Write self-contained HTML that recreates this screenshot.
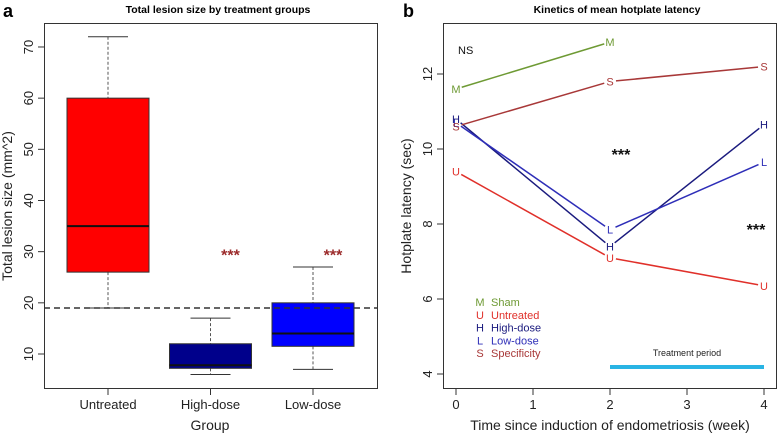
<!DOCTYPE html>
<html><head><meta charset="utf-8"><style>
html,body{margin:0;padding:0;background:#fff;width:778px;height:433px;overflow:hidden}
svg text{font-family:"Liberation Sans",sans-serif}
</style></head><body>
<svg id="c" width="778" height="433" xmlns="http://www.w3.org/2000/svg"></svg>
<script>
// ---- Panel a data ----
const groups=["Untreated","High-dose","Low-dose"];
const whiskLo=[19,6,7];
const q1=[26,7.2,11.5];
const med=[35,7.8,14];
const q3=[60,12,20];
const whiskHi=[72,17,27];
const boxColors=["#ff0000","#00008b","#0000ff"];
const sigA=["","***","***"];
const refLine=19;
const ticksA=[10,20,30,40,50,60,70];
// ---- Panel b data ----
const weeks=[0,1,2,3,4];
const seriesNames=["Sham","Untreated","High-dose","Low-dose","Specificity"];
const seriesLetters=["M","U","H","L","S"];
const seriesColors=["#6e9a34","#e0302a","#1a1a7e","#2e2eb8","#a83838"];
const seriesX=[[0,2],[0,2,4],[0,2,4],[0,2,4],[0,2,4]];
const seriesY=[[11.6,12.85],[9.4,7.1,6.35],[10.8,7.4,10.65],[10.7,7.85,9.65],[10.6,11.8,12.2]];
const ticksB=[4,6,8,10,12];
const treatStart=2, treatEnd=4;

const svg=document.getElementById('c');
const NS="http://www.w3.org/2000/svg";
function mk(tag,attrs,parent){const e=document.createElementNS(NS,tag);for(const k in attrs)e.setAttribute(k,attrs[k]);(parent||svg).appendChild(e);return e;}
function tx(str,attrs,parent){const e=mk('text',attrs,parent);e.textContent=str;return e;}

// ===== Panel a =====
const ya=v=>354-(v-10)*5.117;
const xa=i=>108+i*102.5;
const ga=mk('g',{});


let t=tx("a",{x:3,y:17,'font-size':18,'font-weight':'bold'},ga);

t=tx("Total lesion size by treatment groups",{x:218,y:13,'font-size':10.5,'font-weight':'bold','text-anchor':'middle'},ga);

let r=mk('rect',{x:44.5,y:23.5,width:333,height:365,fill:'none',stroke:'#333'},ga);

ticksA.forEach(v=>{
  mk('line',{x1:38,x2:44,y1:ya(v),y2:ya(v),stroke:'#333'},ga);
  const l=tx(String(v),{x:0,y:0,'font-size':13,'text-anchor':'middle',fill:'#222',transform:`translate(33,${ya(v)}) rotate(-90)`},ga);
  
  
});
t=tx("Total lesion size (mm^2)",{x:0,y:0,'font-size':14,'text-anchor':'middle',fill:'#222',transform:`translate(12,206) rotate(-90)`},ga);

groups.forEach((g,i)=>{
  const x=xa(i),w=82;
  const bx=mk('g',{},ga);
  
  
  mk('line',{x1:x,x2:x,y1:ya(whiskHi[i]),y2:ya(q3[i]),stroke:'#555','stroke-dasharray':'3,2'},bx);
  mk('line',{x1:x,x2:x,y1:ya(q1[i]),y2:ya(whiskLo[i]),stroke:'#555','stroke-dasharray':'3,2'},bx);
  mk('line',{x1:x-20,x2:x+20,y1:ya(whiskHi[i]),y2:ya(whiskHi[i]),stroke:'#333'},bx);
  mk('line',{x1:x-20,x2:x+20,y1:ya(whiskLo[i]),y2:ya(whiskLo[i]),stroke:'#333'},bx);
  mk('rect',{x:x-w/2,y:ya(q3[i]),width:w,height:ya(q1[i])-ya(q3[i]),fill:boxColors[i],stroke:'#333'},bx);
  mk('line',{x1:x-w/2,x2:x+w/2,y1:ya(med[i]),y2:ya(med[i]),stroke:'#111','stroke-width':2},bx);
  mk('line',{x1:x,x2:x,y1:389,y2:395,stroke:'#333'},ga);
  const l=tx(g,{x:x,y:409,'font-size':13,'text-anchor':'middle',fill:'#222'},ga);
  
  
  if(sigA[i]){
    const s=tx(sigA[i],{x:x+20,y:ya(30)+9,'font-size':16,'font-weight':'bold','text-anchor':'middle',fill:'#9b2a2a'},ga);
    
    
  }
});
let ln=mk('line',{x1:44,x2:378,y1:ya(refLine),y2:ya(refLine),stroke:'#333','stroke-width':1.5,'stroke-dasharray':'6,4'},ga);

t=tx("Group",{x:210,y:430,'font-size':14,'text-anchor':'middle',fill:'#222'},ga);


// ===== Panel b =====
const xb=w=>456+w*77;
const yb=v=>374-(v-4)*37.5;
const gb=mk('g',{});


t=tx("b",{x:403,y:17,'font-size':18,'font-weight':'bold'},gb);

t=tx("Kinetics of mean hotplate latency",{x:617,y:13,'font-size':10.5,'font-weight':'bold','text-anchor':'middle'},gb);

r=mk('rect',{x:443.5,y:23.5,width:333,height:365,fill:'none',stroke:'#333'},gb);

ticksB.forEach(v=>{
  mk('line',{x1:437,x2:443,y1:yb(v),y2:yb(v),stroke:'#333'},gb);
  const l=tx(String(v),{x:0,y:0,'font-size':13,'text-anchor':'middle',fill:'#222',transform:`translate(432,${yb(v)}) rotate(-90)`},gb);
  
  
});
weeks.forEach(w=>{
  mk('line',{x1:xb(w),x2:xb(w),y1:389,y2:395,stroke:'#333'},gb);
  const l=tx(String(w),{x:xb(w),y:409,'font-size':13,'text-anchor':'middle',fill:'#222'},gb);
  
  
});
t=tx("Hotplate latency (sec)",{x:0,y:0,'font-size':14,'text-anchor':'middle',fill:'#222',transform:`translate(411,206) rotate(-90)`},gb);

t=tx("Time since induction of endometriosis (week)",{x:610,y:430,'font-size':14,'text-anchor':'middle',fill:'#222'},gb);

seriesNames.forEach((n,si)=>{
  const sg=mk('g',{},gb);
  
  
  const xs=seriesX[si],ys=seriesY[si];
  for(let k=0;k<xs.length-1;k++){
    const x1=xb(xs[k]),y1=yb(ys[k]),x2=xb(xs[k+1]),y2=yb(ys[k+1]);
    const L=Math.hypot(x2-x1,y2-y1),g=6,dx=(x2-x1)/L*g,dy=(y2-y1)/L*g;
    mk('line',{x1:x1+dx,y1:y1+dy,x2:x2-dx,y2:y2-dy,stroke:seriesColors[si],'stroke-width':1.5},sg);
  }
  xs.forEach((w,k)=>{
    const p=tx(seriesLetters[si],{x:xb(w),y:yb(ys[k])+4,'font-size':11,'text-anchor':'middle',fill:seriesColors[si]},sg);
    
    
  });
  const le=mk('g',{},gb);
  
  
  tx(seriesLetters[si],{x:480,y:306+si*12.8,'font-size':11,'text-anchor':'middle',fill:seriesColors[si]},le);
  tx(n,{x:491,y:306+si*12.8,'font-size':11,fill:seriesColors[si]},le);
});
t=tx("NS",{x:458,y:54,'font-size':11,fill:'#111'},gb);

t=tx("***",{x:621,y:160,'font-size':16,'font-weight':'bold','text-anchor':'middle',fill:'#111'},gb);

t=tx("***",{x:756,y:235,'font-size':16,'font-weight':'bold','text-anchor':'middle',fill:'#111'},gb);

ln=mk('line',{x1:xb(treatStart),x2:xb(treatEnd),y1:367,y2:367,stroke:'#29b4e4','stroke-width':4},gb);

t=tx("Treatment period",{x:687,y:356,'font-size':9,'text-anchor':'middle',fill:'#222'},gb);

</script>
</body></html>
